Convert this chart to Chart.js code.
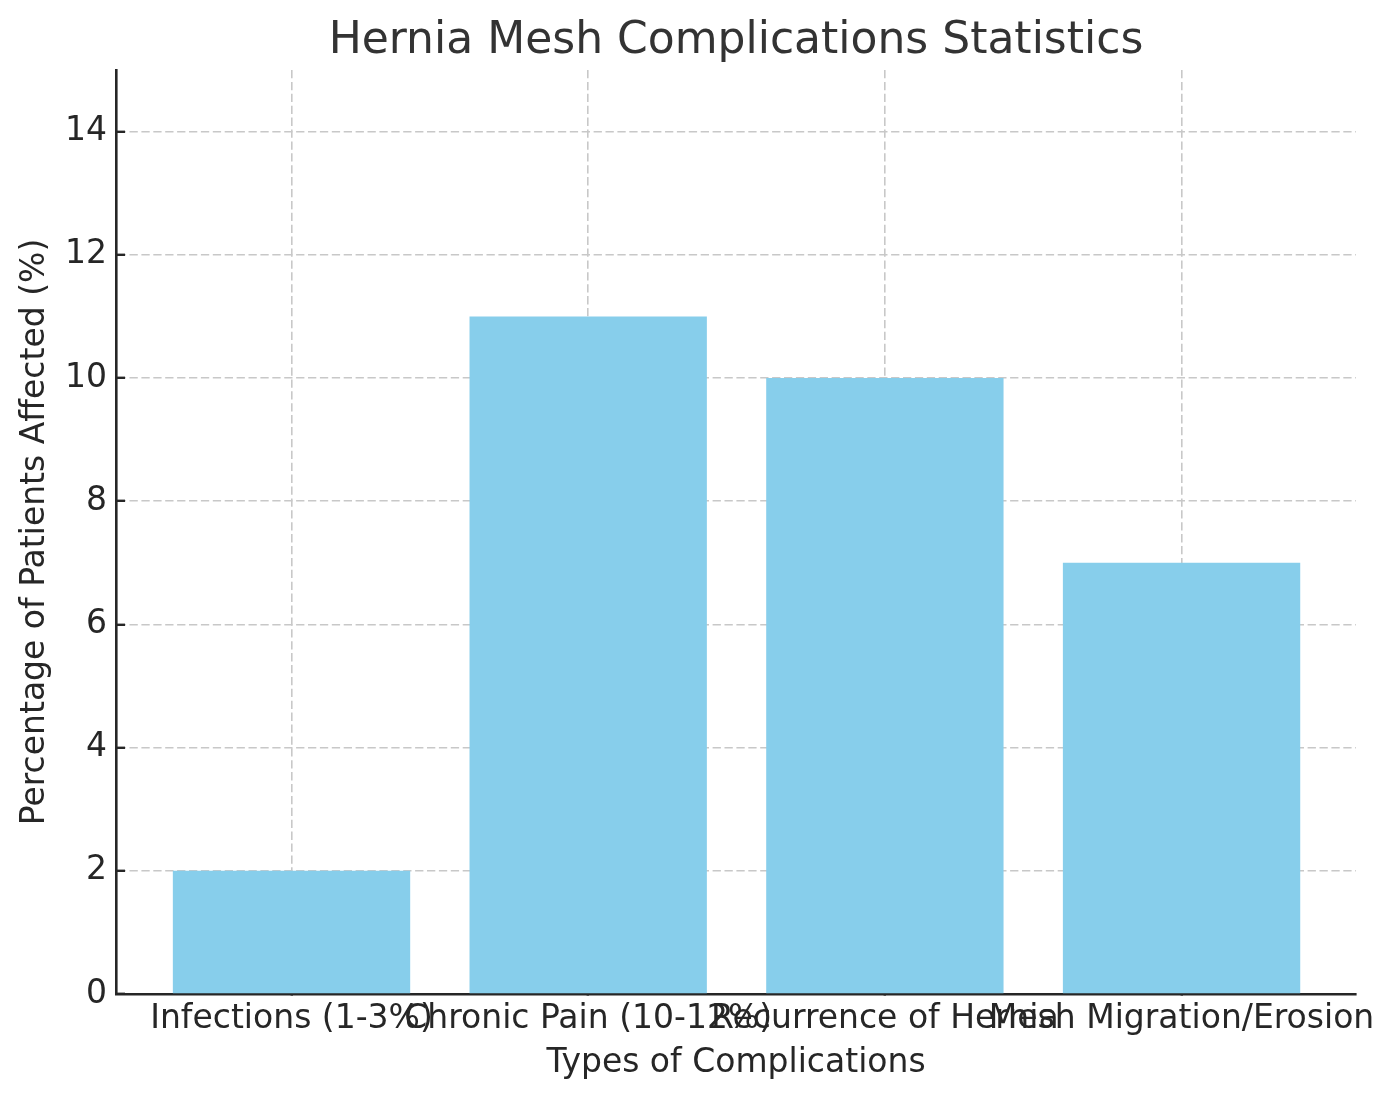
<!DOCTYPE html>
<html>
<head>
<meta charset="utf-8">
<script src="https://cdn.jsdelivr.net/npm/chart.js@4"></script>
<style>
  html, body { margin: 0; padding: 0; background: #ffffff; overflow: hidden; }
  canvas { display: block; }
</style>
</head>
<body>
<canvas id="c" width="1396" height="1101"></canvas>
<script>
// ---- Data ----
const categories = ["Infections (1-3%)", "Chronic Pain (10-12%)", "Recurrence of Hernia", "Mesh Migration/Erosion"];
const percentages = [2, 11, 10, 7];
const yTicks = [0, 2, 4, 6, 8, 10, 12, 14];

const chartTitle = "Hernia Mesh Complications Statistics";
const xTitle = "Types of Complications";
const yTitle = "Percentage of Patients Affected (%)";

// ---- Build ----
const points = categories.map((c, i) => ({ x: i, y: percentages[i] }));
const FONT = "'DejaVu Sans', sans-serif";

new Chart(document.getElementById('c'), {
  type: 'bar',
  data: {
    datasets: [{
      data: points,
      backgroundColor: '#87CEEB',
      borderWidth: 0,
      barPercentage: 0.8,
      categoryPercentage: 1.0
    }]
  },
  options: {
    responsive: false,
    animation: false,
    devicePixelRatio: 1,
    layout: { padding: { left: 0, right: 40, top: 0, bottom: 0 } },
    plugins: {
      legend: { display: false },
      tooltip: { enabled: false },
      title: {
        display: true,
        text: chartTitle,
        fullSize: false,
        color: '#333333',
        font: { family: FONT, size: 44, weight: 'normal' },
        padding: { top: 15, bottom: 2.2 }
      }
    },
    scales: {
      x: {
        type: 'linear',
        min: -0.5916,
        max: 3.588,
        offset: false,
        z: 1,
        afterBuildTicks: (axis) => { axis.ticks = categories.map((c, i) => ({ value: i })); },
        afterFit: (scale) => { scale.height = 107; },
        ticks: {
          autoSkip: false,
          maxRotation: 0,
          minRotation: 0,
          padding: 15,
          color: '#262626',
          font: { family: FONT, size: 33 },
          callback: (v) => categories[v] !== undefined ? categories[v] : ''
        },
        grid: {
          offset: false,
          color: '#c8c8c8',
          lineWidth: 1.6,
          drawTicks: true,
          tickLength: -9,
          tickColor: '#262626',
          tickWidth: 2.4,
          tickBorderDash: []
        },
        border: { display: true, color: '#262626', width: 2.6, dash: [8.3, 3.6] },
        title: {
          display: true,
          text: xTitle,
          color: '#262626',
          font: { family: FONT, size: 33 },
          padding: { top: 0, bottom: 18 }
        }
      },
      y: {
        type: 'linear',
        min: 0,
        max: 15,
        z: 1,
        afterBuildTicks: (axis) => { axis.ticks = yTicks.map(v => ({ value: v })); },
        afterFit: (scale) => { scale.width = 116; },
        ticks: {
          padding: 18,
          color: '#262626',
          font: { family: FONT, size: 33 }
        },
        grid: {
          color: '#c8c8c8',
          lineWidth: 1.6,
          drawTicks: true,
          tickLength: -9,
          tickColor: '#262626',
          tickWidth: 2.4,
          tickBorderDash: []
        },
        border: { display: true, color: '#262626', width: 2.6, dash: [8.3, 3.6] },
        title: {
          display: true,
          text: yTitle,
          color: '#262626',
          font: { family: FONT, size: 33 },
          padding: { top: 16, bottom: 0 }
        }
      }
    }
  }
});
</script>
</body>
</html>
